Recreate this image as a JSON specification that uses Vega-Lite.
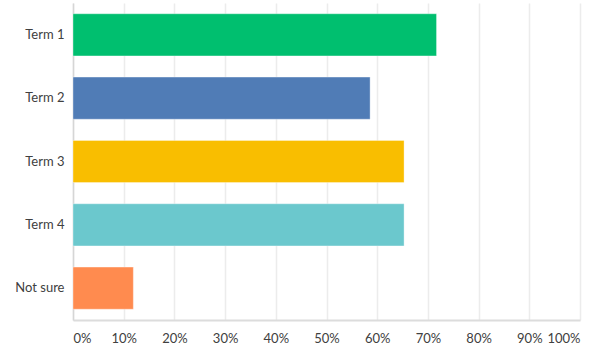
{
  "$schema": "https://vega.github.io/schema/vega-lite/v6.json",
  "autosize": {"type": "none"},
  "padding": {"left": 73, "top": 3, "right": 20, "bottom": 33},
  "width": 507,
  "height": 317,
  "background": "white",
  "data": {
    "values": [
      {"answer": "Term 1", "pct": 71.7},
      {"answer": "Term 2", "pct": 58.6},
      {"answer": "Term 3", "pct": 65.3},
      {"answer": "Term 4", "pct": 65.3},
      {"answer": "Not sure", "pct": 11.9}
    ]
  },
  "mark": {"type": "bar", "strokeWidth": 1, "strokeOpacity": 0.35, "stroke": "white"},
  "encoding": {
    "y": {
      "field": "answer",
      "type": "nominal",
      "sort": null,
      "scale": {"paddingInner": 0.335, "paddingOuter": 0.17},
      "axis": {
        "title": null,
        "ticks": false,
        "labelPadding": 9,
        "labelFont": "Lato",
        "labelFontSize": 13,
        "labelColor": "#404040",
        "domainColor": "#d6d6d6",
        "domainWidth": 1.5,
        "grid": false
      }
    },
    "x": {
      "field": "pct",
      "type": "quantitative",
      "scale": {"domain": [0, 100], "nice": false},
      "axis": {
        "title": null,
        "values": [0, 10, 20, 30, 40, 50, 60, 70, 80, 90, 100],
        "labelExpr": "datum.value + '%'",
        "labelFlush": true,
        "ticks": false,
        "labelPadding": 12,
        "labelFont": "Lato",
        "labelFontSize": 13,
        "labelColor": "#404040",
        "domainColor": "#dcdcdc",
        "domainWidth": 2,
        "gridColor": "#ececec",
        "gridWidth": 1.5
      }
    },
    "color": {
      "field": "answer",
      "type": "nominal",
      "sort": null,
      "legend": null,
      "scale": {
        "domain": ["Term 1", "Term 2", "Term 3", "Term 4", "Not sure"],
        "range": ["#00BF6F", "#507CB6", "#F9BE00", "#6BC8CD", "#FF8B4F"]
      }
    }
  },
  "config": {"view": {"stroke": null}}
}
